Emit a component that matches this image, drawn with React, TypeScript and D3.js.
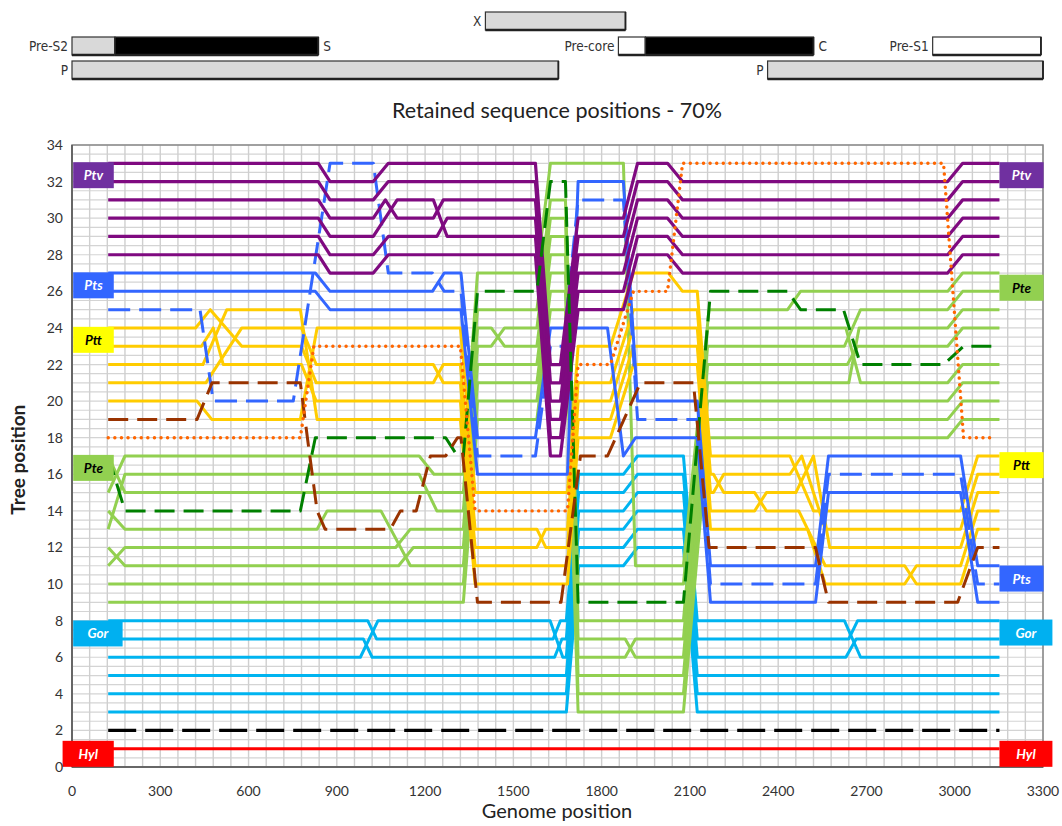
import React from 'react';
import * as d3 from 'd3';

type Pt = [number, number];

// ---------- axis ticks ----------
const xTicks = [0, 300, 600, 900, 1200, 1500, 1800, 2100, 2400, 2700, 3000, 3300];
const yTicks = [0, 2, 4, 6, 8, 10, 12, 14, 16, 18, 20, 22, 24, 26, 28, 30, 32, 34];

// ---------- series (genome position, tree position) ----------
const hyl: Pt[] = [[123, 1], [3152, 1]];
const outgroup: Pt[] = [[123, 2], [3152, 2]];

const gor3: Pt[] = [[123, 3], [1680, 3], [1722, 11], [1874, 11], [1922, 12], [2078, 12], [2125, 3], [3152, 3]];
const gor4: Pt[] = [[123, 4], [1680, 4], [1722, 12], [1874, 12], [1922, 13], [2078, 13], [2125, 4], [3152, 4]];
const gor5: Pt[] = [[123, 5], [1680, 5], [1722, 13], [1874, 13], [1922, 14], [2078, 14], [2125, 5], [3152, 5]];
const gor6: Pt[] = [[123, 6], [980, 6], [1040, 8], [1625, 8], [1668, 6], [1680, 6], [1722, 14], [1874, 14], [1922, 15], [2078, 15], [2125, 6], [2630, 6], [2665, 7], [3152, 7]];
const gor7: Pt[] = [[123, 7], [990, 7], [1020, 6], [1640, 6], [1665, 7], [1680, 7], [1722, 15], [1874, 15], [1922, 16], [2078, 16], [2125, 7], [2640, 7], [2670, 8], [3152, 8]];
const gor8: Pt[] = [[123, 8], [1005, 8], [1035, 7], [1635, 7], [1660, 8], [1680, 8], [1722, 16], [1874, 16], [1922, 17], [2078, 17], [2125, 8], [2625, 8], [2680, 6], [3152, 6]];

const pteA: Pt[] = [[123, 15], [180, 17], [1180, 17], [1230, 16], [1330, 16], [1378, 27], [1580, 27], [1626, 33], [1874, 33], [1915, 11], [2078, 11], [2165, 25], [2432, 25], [2476, 26], [2976, 26], [3027, 27], [3152, 27]];
const pteB: Pt[] = [[123, 13], [180, 16], [1180, 16], [1240, 14], [1330, 14], [1378, 24], [1425, 24], [1470, 23], [1580, 23], [1626, 29], [1677, 29], [1720, 7], [1880, 7], [1915, 6], [2078, 6], [2160, 21], [2640, 21], [2675, 24], [2976, 24], [3027, 25], [3152, 25]];
const pteC: Pt[] = [[123, 17], [180, 15], [1330, 15], [1378, 25], [1580, 25], [1626, 31], [1677, 31], [1720, 10], [2078, 10], [2160, 24], [2630, 24], [2680, 21], [2976, 21], [3027, 22], [3152, 22]];
const pteD: Pt[] = [[123, 14], [180, 13], [833, 13], [867, 14], [1050, 14], [1150, 11], [1330, 11], [1378, 21], [1580, 21], [1626, 27], [1677, 27], [1720, 5], [2078, 5], [2160, 20], [2976, 20], [3027, 21], [3152, 21]];
const pteE: Pt[] = [[123, 11], [180, 12], [1100, 12], [1150, 13], [1330, 13], [1378, 23], [1425, 23], [1470, 24], [1580, 24], [1626, 30], [1677, 30], [1720, 8], [2078, 8], [2160, 23], [2625, 23], [2680, 25], [2976, 25], [3027, 26], [3152, 26]];
const pteF: Pt[] = [[123, 12], [180, 11], [1110, 11], [1160, 12], [1330, 12], [1378, 22], [1580, 22], [1626, 28], [1677, 28], [1720, 6], [1880, 6], [1915, 7], [2078, 7], [2160, 22], [2635, 22], [2670, 23], [2976, 23], [3027, 24], [3152, 24]];
const pteG: Pt[] = [[123, 10], [1330, 10], [1378, 20], [1580, 20], [1626, 26], [1677, 26], [1720, 4], [2078, 4], [2160, 19], [2976, 19], [3027, 20], [3152, 20]];
const pteH: Pt[] = [[123, 9], [1330, 9], [1378, 19], [1580, 19], [1626, 25], [1677, 25], [1720, 3], [2078, 3], [2160, 18], [2976, 18], [3027, 19], [3152, 19]];
const pteDashed: Pt[] = [[123, 17], [180, 14], [776, 14], [827, 18], [1270, 18], [1310, 17], [1330, 17], [1378, 26], [1580, 26], [1626, 32], [1677, 32], [1720, 9], [2078, 9], [2170, 26], [2432, 26], [2476, 25], [2622, 25], [2680, 22], [2962, 22], [3030, 23], [3152, 23]];

const ptt24: Pt[] = [[123, 24], [420, 24], [470, 25], [577, 23], [780, 23], [830, 21], [1228, 21], [1262, 22], [1320, 22], [1370, 13], [1580, 13], [1610, 12], [1684, 12], [1720, 20], [1830, 20], [1908, 24], [2125, 24], [2170, 15], [2180, 15], [2215, 16], [2440, 16], [2480, 17], [2560, 13], [3020, 13], [3078, 16], [3152, 16]];
const ptt23: Pt[] = [[123, 23], [440, 23], [480, 24], [514, 22], [780, 22], [830, 20], [1320, 20], [1370, 11], [1684, 11], [1720, 19], [1830, 19], [1908, 23], [2125, 23], [2170, 14], [2320, 14], [2360, 15], [2460, 15], [2520, 17], [2575, 12], [3020, 12], [3078, 15], [3152, 15]];
const ptt22: Pt[] = [[123, 22], [445, 22], [526, 25], [776, 25], [833, 19], [1320, 19], [1370, 10], [1684, 10], [1720, 18], [1830, 18], [1908, 22], [2125, 22], [2170, 13], [2500, 13], [2560, 10], [2830, 10], [2870, 11], [3020, 11], [3078, 14], [3152, 14]];
const ptt21: Pt[] = [[123, 21], [455, 21], [577, 24], [780, 24], [830, 22], [1228, 22], [1262, 21], [1320, 21], [1370, 12], [1580, 12], [1610, 13], [1684, 13], [1720, 21], [1830, 21], [1908, 25], [2125, 25], [2170, 16], [2180, 16], [2215, 15], [2320, 15], [2360, 14], [2470, 14], [2560, 11], [2830, 11], [2870, 10], [3020, 10], [3078, 13], [3152, 13]];
const ptt20: Pt[] = [[123, 20], [425, 20], [475, 19], [776, 19], [833, 24], [1320, 24], [1370, 15], [1684, 15], [1720, 23], [1830, 23], [1908, 27], [2027, 27], [2075, 26], [2125, 26], [2170, 17], [2440, 17], [2520, 14], [3020, 14], [3078, 17], [3152, 17]];

const pts27: Pt[] = [[123, 27], [827, 27], [877, 26], [1225, 26], [1265, 27], [1322, 27], [1378, 18], [1575, 18], [1626, 24], [1820, 24], [1874, 17], [1915, 18], [2125, 18], [2170, 9], [2527, 9], [2571, 15], [3020, 15], [3078, 9], [3152, 9]];
const pts26: Pt[] = [[123, 26], [827, 26], [877, 25], [1322, 25], [1378, 16], [1684, 16], [1720, 32], [1874, 32], [1922, 20], [2125, 20], [2170, 11], [2527, 11], [2571, 17], [3020, 17], [3078, 11], [3152, 11]];
const pts25: Pt[] = [[123, 25], [435, 25], [480, 20], [752, 20], [877, 33], [1024, 33], [1075, 27], [1225, 27], [1265, 26], [1322, 26], [1378, 17], [1575, 17], [1626, 23], [1670, 23], [1720, 31], [1874, 31], [1922, 19], [2125, 19], [2170, 10], [2527, 10], [2571, 16], [3020, 16], [3078, 10], [3152, 10]];

const ptvA: Pt[] = [[123, 33], [837, 33], [877, 32], [1024, 32], [1075, 33], [1575, 33], [1626, 22], [1660, 22], [1720, 30], [1874, 30], [1922, 33], [2024, 33], [2075, 32], [2976, 32], [3027, 33], [3152, 33]];
const ptvB: Pt[] = [[123, 32], [837, 32], [877, 31], [1024, 31], [1075, 32], [1575, 32], [1626, 21], [1660, 21], [1720, 29], [1874, 29], [1922, 32], [2024, 32], [2075, 31], [2976, 31], [3027, 32], [3152, 32]];
const ptvC: Pt[] = [[123, 31], [837, 31], [877, 30], [1024, 30], [1065, 31], [1105, 30], [1228, 30], [1262, 31], [1575, 31], [1626, 20], [1660, 20], [1720, 28], [1874, 28], [1922, 31], [2024, 31], [2075, 30], [2976, 30], [3027, 31], [3152, 31]];
const ptvD: Pt[] = [[123, 30], [837, 30], [877, 29], [1024, 29], [1105, 31], [1228, 31], [1275, 29], [1575, 29], [1626, 18], [1660, 18], [1720, 26], [1874, 26], [1922, 29], [2024, 29], [2075, 28], [2976, 28], [3027, 29], [3152, 29]];
const ptvE: Pt[] = [[123, 29], [837, 29], [877, 28], [1024, 28], [1075, 29], [1240, 29], [1275, 30], [1575, 30], [1626, 19], [1660, 19], [1720, 27], [1874, 27], [1922, 30], [2024, 30], [2075, 29], [2976, 29], [3027, 30], [3152, 30]];
const ptvF: Pt[] = [[123, 28], [837, 28], [877, 27], [1024, 27], [1075, 28], [1575, 28], [1626, 17], [1660, 17], [1720, 25], [1874, 25], [1922, 28], [2024, 28], [2075, 27], [2976, 27], [3027, 28], [3152, 28]];

const brownDashed: Pt[] = [[123, 19], [425, 19], [476, 21], [776, 21], [800, 18], [833, 14], [860, 13], [1082, 13], [1116, 14], [1170, 14], [1218, 17], [1270, 17], [1310, 18], [1322, 18], [1378, 9], [1662, 9], [1728, 17], [1820, 17], [1932, 21], [2112, 21], [2165, 12], [2527, 12], [2571, 9], [3010, 9], [3078, 12], [3152, 12]];
const orangeDotted: Pt[] = [[123, 18], [776, 18], [822, 23], [1320, 23], [1370, 14], [1684, 14], [1720, 22], [1830, 22], [1908, 26], [2024, 26], [2075, 33], [2962, 33], [3030, 18], [3135, 18]];

// ---------- series styling (drawing order) ----------
const seriesList: { pts: Pt[]; key: string }[] = [
  { pts: hyl, key: 'hyl' },
  { pts: outgroup, key: 'out' },
  { pts: gor3, key: 'gor' }, { pts: gor4, key: 'gor' }, { pts: gor5, key: 'gor' },
  { pts: gor6, key: 'gor' }, { pts: gor7, key: 'gor' }, { pts: gor8, key: 'gor' },
  { pts: pteA, key: 'pte' }, { pts: pteB, key: 'pte' }, { pts: pteC, key: 'pte' }, { pts: pteD, key: 'pte' },
  { pts: pteE, key: 'pte' }, { pts: pteF, key: 'pte' }, { pts: pteG, key: 'pte' }, { pts: pteH, key: 'pte' },
  { pts: ptt24, key: 'ptt' }, { pts: ptt23, key: 'ptt' }, { pts: ptt22, key: 'ptt' }, { pts: ptt21, key: 'ptt' }, { pts: ptt20, key: 'ptt' },
  { pts: pts27, key: 'pts' }, { pts: pts26, key: 'pts' }, { pts: pts25, key: 'ptsD' },
  { pts: ptvA, key: 'ptv' }, { pts: ptvB, key: 'ptv' }, { pts: ptvC, key: 'ptv' },
  { pts: ptvD, key: 'ptv' }, { pts: ptvE, key: 'ptv' }, { pts: ptvF, key: 'ptv' },
  { pts: pteDashed, key: 'pteD' },
  { pts: brownDashed, key: 'brown' },
  { pts: orangeDotted, key: 'orange' },
];

const styles: Record<string, { color: string; dash?: string; width: number; cap?: string }> = {
  hyl: { color: '#ff0000', width: 3 },
  out: { color: '#000000', dash: '28 9', width: 3.2 },
  gor: { color: '#00b4f0', width: 3 },
  pte: { color: '#92d050', width: 3 },
  pteD: { color: '#008000', dash: '20 9', width: 3 },
  ptt: { color: '#ffcc00', width: 3 },
  pts: { color: '#3366ff', width: 3 },
  ptsD: { color: '#3366ff', dash: '22 9', width: 3 },
  ptv: { color: '#7f0a80', width: 3.2 },
  brown: { color: '#993300', dash: '20 9', width: 3 },
  orange: { color: '#ff6600', dash: '0.1 6.5', width: 3.4, cap: 'round' },
};

// ---------- taxon label boxes ----------
const labelNames = ['Ptv', 'Pts', 'Ptt', 'Pte', 'Gor', 'Hyl'];
const labelFill = ['#7030a0', '#3366ff', '#ffff00', '#92d050', '#00b0f0', '#ff0000'];
const labelText = ['#ffffff', '#ffffff', '#000000', '#000000', '#ffffff', '#ffffff'];
const leftLabelY = [32.35, 26.33, 23.35, 16.35, 7.3, 0.72];
const leftLabelX0 = [4, 4, 4, 4, 4, -32];
const leftLabelX1 = [142, 142, 142, 142, 172, 142];
const rightLabelNames = ['Ptv', 'Pte', 'Ptt', 'Pts', 'Gor', 'Hyl'];
const rightLabelFill = ['#7030a0', '#92d050', '#ffff00', '#3366ff', '#00b0f0', '#ff0000'];
const rightLabelText = ['#ffffff', '#000000', '#000000', '#ffffff', '#ffffff', '#ffffff'];
const rightLabelY = [32.35, 26.2, 16.5, 10.3, 7.35, 0.72];
const rightLabelX0 = [3152, 3152, 3152, 3152, 3152, 3152];
const rightLabelX1 = [3302, 3302, 3302, 3302, 3332, 3332];

// ---------- gene map ----------
const geneNames = ['X', 'Pre-S2', 'S', 'Pre-core', 'C', 'Pre-S1', 'P', 'P'];
const geneStart = [1405, 0, 146, 1857, 1949, 2925, 0, 2364];
const geneEnd = [1881, 146, 837, 1949, 2520, 3293, 1653, 3300];
const geneRow = [0, 1, 1, 1, 1, 1, 2, 2];
const geneFill = ['#d9d9d9', '#d9d9d9', '#000000', '#ffffff', '#000000', '#ffffff', '#d9d9d9', '#d9d9d9'];
const geneLabelSide = ['left', 'left', 'right', 'left', 'right', 'left', 'left', 'left'];

export default function App() {
  const W = 1062, H = 826;
  const x = d3.scaleLinear().domain([0, 3300]).range([72, 1043]);
  const y = d3.scaleLinear().domain([0, 34]).range([767, 145]);
  const line = d3.line<Pt>().x(d => x(d[0])).y(d => y(d[1]));

  const vGrid = d3.range(0, 3301, 60);
  const hGrid = d3.range(0, 69).map(i => i * 0.5);
  const rowTop = [12, 37, 61];
  const rowH = 18;
  const font = "Lato, 'Open Sans', 'Liberation Sans', sans-serif";
  const narrow = "'Liberation Sans Narrow', 'DejaVu Sans Condensed', 'Liberation Sans', sans-serif";

  return (
    <svg width={W} height={H} style={{ position: 'absolute', left: 0, top: 0, background: '#fff' }}>
      {/* gene map */}
      {geneNames.map((g, i) => {
        const x0 = x(geneStart[i]);
        const x1 = x(geneEnd[i]);
        const t = rowTop[geneRow[i]];
        return (
          <g key={'gene' + i}>
            <rect x={x0} y={t} width={x1 - x0} height={rowH} fill={geneFill[i]} stroke="#333" strokeWidth={1.2} />
            <line x1={x0} x2={x1} y1={t + rowH} y2={t + rowH} stroke="#222" strokeWidth={2.5} />
            <line x1={x1} x2={x1} y1={t} y2={t + rowH} stroke="#222" strokeWidth={1.8} />
            <text
              x={geneLabelSide[i] === 'left' ? x0 - 4 : x1 + 5}
              y={t + rowH / 2 + 5}
              textAnchor={geneLabelSide[i] === 'left' ? 'end' : 'start'}
              fontFamily={narrow}
              fontSize={13.5}
              fill="#333"
            >{g}</text>
          </g>
        );
      })}

      <text x={557} y={118} textAnchor="middle" fontFamily={font} fontSize={21.5} fill="#222">Retained sequence positions - 70%</text>

      {/* grid */}
      {hGrid.map((v, i) => (
        <line key={'h' + i} x1={x(0)} x2={x(3300)} y1={y(v)} y2={y(v)} stroke="#d4d4d4" strokeWidth={1.2} />
      ))}
      {vGrid.map((v, i) => (
        <line key={'v' + i} x1={x(v)} x2={x(v)} y1={y(0)} y2={y(34)} stroke="#cfcfcf" strokeWidth={1.4} />
      ))}
      <rect x={x(0)} y={y(34)} width={x(3300) - x(0)} height={y(0) - y(34)} fill="none" stroke="#888" strokeWidth={1.5} />
      <line x1={x(0)} x2={x(3300)} y1={y(0)} y2={y(0)} stroke="#555" strokeWidth={1.5} />
      <line x1={x(0)} x2={x(0)} y1={y(0)} y2={y(34)} stroke="#555" strokeWidth={1.5} />

      {/* series */}
      {seriesList.map((s, i) => {
        const st = styles[s.key];
        return (
          <path
            key={'s' + i}
            d={line(s.pts) || ''}
            fill="none"
            stroke={st.color}
            strokeWidth={st.width}
            strokeDasharray={st.dash}
            strokeLinejoin="round"
            strokeLinecap={(st.cap as any) || 'butt'}
          />
        );
      })}

      {/* taxon labels */}
      {labelNames.map((n, i) => {
        const x0 = x(leftLabelX0[i]);
        const x1 = x(leftLabelX1[i]);
        const cy = y(leftLabelY[i]);
        return (
          <g key={'ll' + i}>
            <rect x={x0} y={cy - 13} width={x1 - x0} height={26} fill={labelFill[i]} />
            <text x={(x0 + x1) / 2} y={cy + 5} textAnchor="middle" fontFamily={font} fontStyle="italic" fontWeight="bold" fontSize={13.5} fill={labelText[i]}>{n}</text>
          </g>
        );
      })}
      {rightLabelNames.map((n, i) => {
        const x0 = x(rightLabelX0[i]);
        const x1 = x(rightLabelX1[i]);
        const cy = y(rightLabelY[i]);
        return (
          <g key={'rl' + i}>
            <rect x={x0} y={cy - 13} width={x1 - x0} height={26} fill={rightLabelFill[i]} />
            <text x={(x0 + x1) / 2} y={cy + 5} textAnchor="middle" fontFamily={font} fontStyle="italic" fontWeight="bold" fontSize={13.5} fill={rightLabelText[i]}>{n}</text>
          </g>
        );
      })}

      {/* axes labels */}
      {xTicks.map((t, i) => (
        <text key={'xt' + i} x={x(t)} y={796} textAnchor="middle" fontFamily={font} fontSize={14} fill="#333">{t}</text>
      ))}
      {yTicks.map((t, i) => (
        <text key={'yt' + i} x={63} y={y(t) + 5} textAnchor="end" fontFamily={font} fontSize={14} fill="#333">{t}</text>
      ))}
      <text x={557} y={818} textAnchor="middle" fontFamily={font} fontSize={20} fill="#222">Genome position</text>
      <text transform={`translate(25, ${y(16.8)}) rotate(-90)`} textAnchor="middle" fontFamily={font} fontSize={19} fontWeight="bold" fill="#222">Tree position</text>
    </svg>
  );
}
